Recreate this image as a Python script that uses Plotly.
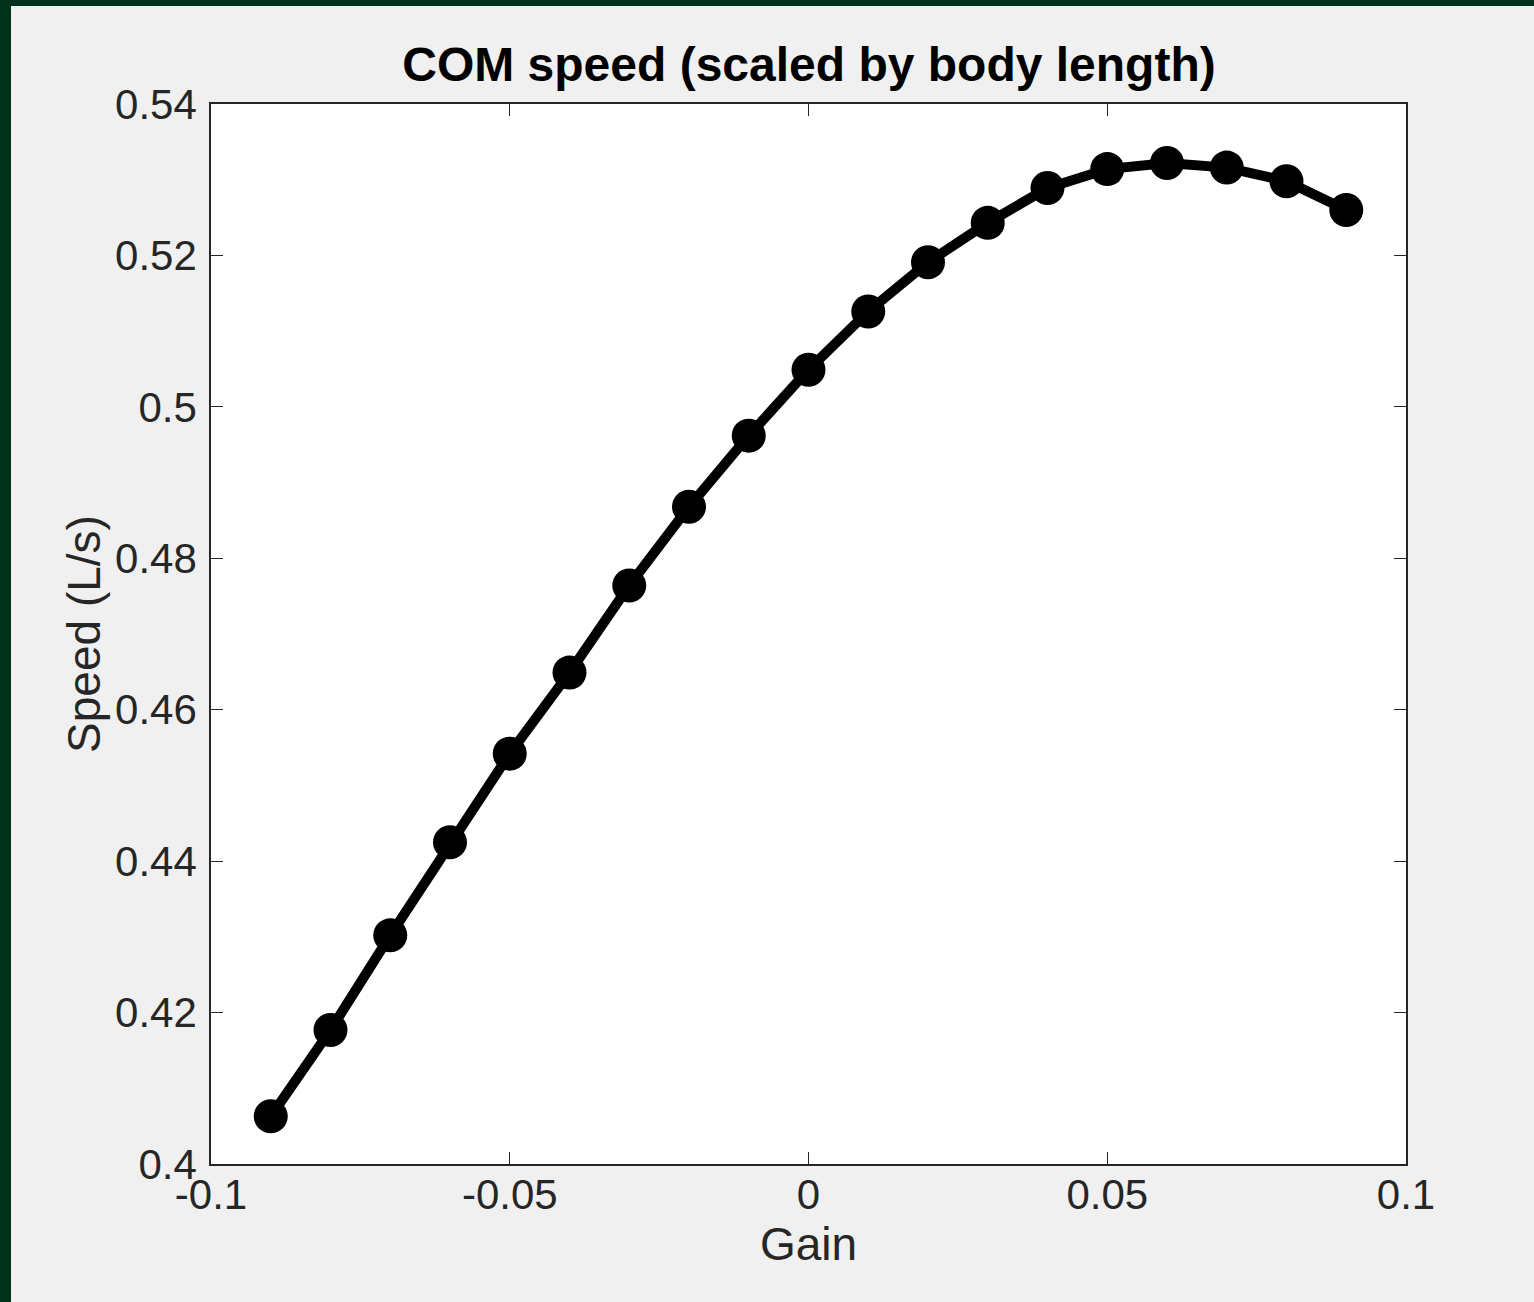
import plotly.graph_objects as go

gain = [-0.09, -0.08, -0.07, -0.06, -0.05, -0.04, -0.03, -0.02, -0.01, 0.0,
        0.01, 0.02, 0.03, 0.04, 0.05, 0.06, 0.07, 0.08, 0.09]
speed = [0.4063, 0.4177, 0.4302, 0.4425, 0.4542, 0.4649, 0.4764, 0.4868, 0.4962, 0.5049,
         0.5126, 0.5191, 0.5243, 0.5289, 0.5314, 0.5322, 0.5316, 0.5298, 0.5260]

x_ticks = [-0.1, -0.05, 0, 0.05, 0.1]
x_ticklabels = ["-0.1", "-0.05", "0", "0.05", "0.1"]
y_ticks = [0.40, 0.42, 0.44, 0.46, 0.48, 0.50, 0.52, 0.54]
y_ticklabels = ["0.4", "0.42", "0.44", "0.46", "0.48", "0.5", "0.52", "0.54"]

W, H = 1534, 1302
ML, MR, MT, MB = 211, 128, 104, 138
PW, PH = W - ML - MR, H - MT - MB

TXT = "#262626"
FONT = "Liberation Sans, Arial, Helvetica, sans-serif"

fig = go.Figure()
fig.add_trace(go.Scatter(
    x=gain, y=speed, mode="lines+markers",
    line=dict(color="black", width=10),
    marker=dict(color="black", size=34),
    showlegend=False, hoverinfo="x+y",
))

# light grey figure area over dark green paper (left and top border strips)
fig.add_shape(type="rect", xref="paper", yref="paper", layer="below",
              x0=(11 - ML) / PW, x1=(W - ML + 50) / PW,
              y0=-(MB + 50) / PH, y1=(H - MB - 6) / PH,
              fillcolor="#f0f0f0", line=dict(width=0))
fig.add_shape(type="rect", xref="paper", yref="paper", layer="below",
              x0=0, x1=1, y0=0, y1=1,
              fillcolor="white", line=dict(width=0))

axis_common = dict(
    showline=True, linecolor=TXT, linewidth=1.5, mirror="ticks",
    ticks="inside", ticklen=12, tickwidth=1, tickcolor=TXT,
    showgrid=False, zeroline=False,
    tickfont=dict(family=FONT, size=42, color=TXT),
)

fig.update_layout(
    width=W, height=H,
    margin=dict(l=ML, r=MR, t=MT, b=MB, autoexpand=False),
    paper_bgcolor="#00311b", plot_bgcolor="white",
    title=dict(text="<b>COM speed (scaled by body length)</b>",
               font=dict(family=FONT, size=48, color="black"),
               x=809 / W, xanchor="center", y=1 - 64 / H, yanchor="middle"),
    xaxis=dict(range=[-0.1, 0.1], tickvals=x_ticks, ticktext=x_ticklabels,
               title=dict(text="Gain", font=dict(family=FONT, size=46, color=TXT), standoff=0),
               ticklabelstandoff=-7, **axis_common),
    yaxis=dict(range=[0.4, 0.54], tickvals=y_ticks, ticktext=y_ticklabels,
               title=dict(text="Speed (L/s)", font=dict(family=FONT, size=46, color=TXT), standoff=0),
               ticklabelstandoff=4, **axis_common),
)

fig.write_html("out.html", config={"displayModeBar": False},
               post_script="document.body.style.margin='0';document.body.style.overflow='hidden';")
